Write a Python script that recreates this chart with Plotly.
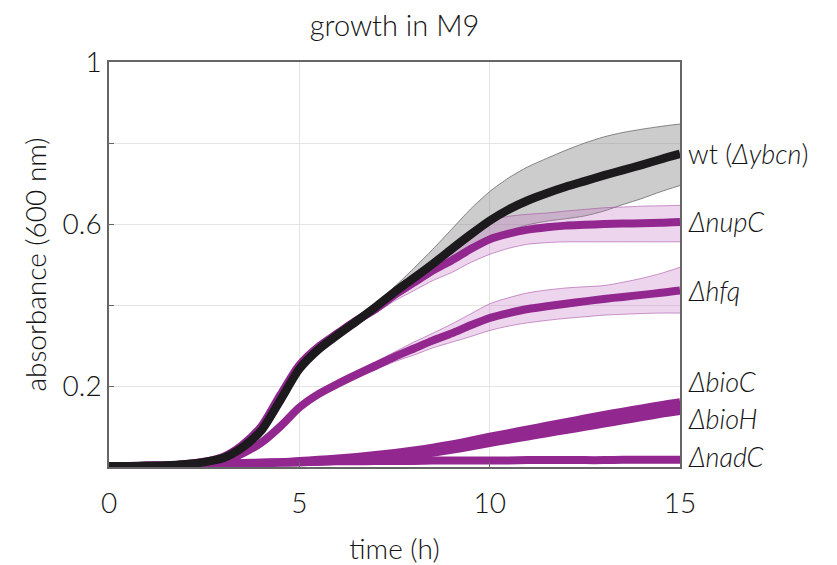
import plotly.graph_objects as go

# ---- data ----
time_h = [0, 0.5, 1, 1.5, 2, 2.5, 3, 3.5, 4, 4.5, 5, 5.5, 6, 6.5, 7, 7.5, 8, 8.5, 9, 9.5,
          10, 10.5, 11, 11.5, 12, 12.5, 13, 13.5, 14, 14.5, 15]

wt_mean = [0.002, 0.002, 0.003, 0.004, 0.007, 0.012, 0.022, 0.048, 0.09, 0.165, 0.242, 0.29,
           0.326, 0.36, 0.395, 0.432, 0.466, 0.501, 0.538, 0.574, 0.608, 0.636, 0.658, 0.676,
           0.692, 0.706, 0.72, 0.733, 0.746, 0.76, 0.773]
wt_upper = [0.006, 0.006, 0.007, 0.008, 0.011, 0.016, 0.026, 0.052, 0.095, 0.17, 0.248, 0.296,
            0.333, 0.37, 0.405, 0.445, 0.49, 0.537, 0.587, 0.637, 0.68, 0.714, 0.741, 0.762,
            0.782, 0.8, 0.815, 0.826, 0.834, 0.841, 0.847]
wt_lower = [0.0, 0.0, 0.0, 0.001, 0.003, 0.008, 0.018, 0.044, 0.085, 0.16, 0.236, 0.284,
            0.319, 0.352, 0.385, 0.415, 0.445, 0.475, 0.508, 0.538, 0.562, 0.583, 0.598, 0.607,
            0.613, 0.62, 0.632, 0.648, 0.663, 0.68, 0.695]

nupC_mean = [0.002, 0.002, 0.003, 0.004, 0.007, 0.013, 0.025, 0.054, 0.1, 0.178, 0.252, 0.297,
             0.33, 0.362, 0.39, 0.425, 0.455, 0.485, 0.51, 0.538, 0.562, 0.576, 0.586, 0.592,
             0.596, 0.598, 0.6, 0.601, 0.602, 0.603, 0.605]
nupC_upper = [0.006, 0.006, 0.007, 0.008, 0.011, 0.017, 0.029, 0.058, 0.105, 0.184, 0.259, 0.304,
              0.338, 0.372, 0.4, 0.44, 0.475, 0.51, 0.545, 0.583, 0.608, 0.619, 0.624, 0.627,
              0.632, 0.636, 0.64, 0.642, 0.644, 0.645, 0.646]
nupC_lower = [0.0, 0.0, 0.0, 0.001, 0.003, 0.009, 0.021, 0.05, 0.095, 0.172, 0.245, 0.29,
              0.322, 0.352, 0.38, 0.41, 0.435, 0.46, 0.48, 0.505, 0.525, 0.54, 0.55, 0.554,
              0.556, 0.556, 0.556, 0.556, 0.556, 0.556, 0.556]

hfq_mean = [0.002, 0.002, 0.003, 0.004, 0.006, 0.009, 0.015, 0.033, 0.06, 0.1, 0.147, 0.18,
            0.205, 0.228, 0.25, 0.272, 0.292, 0.312, 0.33, 0.35, 0.368, 0.38, 0.39, 0.397,
            0.403, 0.409, 0.415, 0.42, 0.425, 0.43, 0.436]
hfq_upper = [0.006, 0.006, 0.007, 0.008, 0.01, 0.013, 0.019, 0.037, 0.065, 0.106, 0.153, 0.186,
             0.212, 0.236, 0.26, 0.284, 0.308, 0.33, 0.353, 0.378, 0.403, 0.418, 0.43, 0.437,
             0.442, 0.445, 0.448, 0.456, 0.466, 0.478, 0.493]
hfq_lower = [0.0, 0.0, 0.0, 0.001, 0.002, 0.005, 0.011, 0.029, 0.055, 0.094, 0.141, 0.174,
             0.198, 0.22, 0.24, 0.26, 0.276, 0.294, 0.308, 0.322, 0.337, 0.348, 0.356, 0.362,
             0.367, 0.371, 0.375, 0.377, 0.379, 0.38, 0.38]

bioC_mean = [0.002, 0.002, 0.003, 0.004, 0.005, 0.006, 0.008, 0.009, 0.011, 0.013, 0.016, 0.019,
             0.022, 0.026, 0.031, 0.036, 0.042, 0.049, 0.057, 0.066, 0.076, 0.085, 0.094, 0.103,
             0.112, 0.121, 0.13, 0.138, 0.146, 0.154, 0.161]
bioH_mean = [0.002, 0.002, 0.003, 0.004, 0.004, 0.005, 0.006, 0.007, 0.008, 0.009, 0.01, 0.012,
             0.014, 0.016, 0.019, 0.023, 0.028, 0.034, 0.041, 0.049, 0.058, 0.066, 0.074, 0.082,
             0.09, 0.098, 0.106, 0.114, 0.122, 0.13, 0.137]
nadC_mean = [0.002, 0.002, 0.003, 0.004, 0.005, 0.006, 0.008, 0.01, 0.011, 0.012, 0.013, 0.013,
             0.014, 0.014, 0.015, 0.015, 0.015, 0.016, 0.016, 0.016, 0.016, 0.016, 0.017, 0.017,
             0.017, 0.017, 0.017, 0.018, 0.018, 0.018, 0.018]

label_texts = ["wt (<i>Δybcn</i>)", "<i>ΔnupC</i>", "<i>Δhfq</i>",
               "<i>ΔbioC</i>", "<i>ΔbioH</i>", "<i>ΔnadC</i>"]
label_y = [0.773, 0.606, 0.436, 0.21, 0.12, 0.025]

x_ticks = [0, 5, 10, 15]
y_tickvals = [0, 0.2, 0.4, 0.6, 0.8, 1]
y_ticktext = ["", "0.2", "", "0.6", "", "1"]

# ---- styles ----
PURPLE = "#92278f"
BLACK = "#1c1a1c"
FONT = "Lato"
TXT = "#141414"
SPL = dict(shape="spline", smoothing=0.7)


def fnt(size):
    return dict(family=FONT, size=size, color=TXT, weight=300)


fig = go.Figure()


def band(upper, lower, fill, edge, width=1):
    fig.add_trace(go.Scatter(x=time_h, y=upper, mode="lines",
                             line=dict(color=edge, width=width, **SPL),
                             hoverinfo="skip", showlegend=False))
    fig.add_trace(go.Scatter(x=time_h, y=lower, mode="lines", fill="tonexty", fillcolor=fill,
                             line=dict(color=edge, width=width, **SPL),
                             hoverinfo="skip", showlegend=False))


def curve(y, color, width):
    fig.add_trace(go.Scatter(x=time_h, y=y, mode="lines",
                             line=dict(color=color, width=width, **SPL),
                             showlegend=False))


pink_fill = "rgba(196,120,196,0.30)"
pink_edge = "rgba(160,70,160,0.55)"
band(hfq_upper, hfq_lower, pink_fill, pink_edge)
band(wt_upper, wt_lower, "rgba(128,128,128,0.40)", "rgba(120,120,120,0.9)")
band(nupC_upper, nupC_lower, pink_fill, pink_edge)

curve(nadC_mean, PURPLE, 8)
band(bioC_mean, bioH_mean, PURPLE, PURPLE, width=7)
curve(hfq_mean, PURPLE, 8)
curve(nupC_mean, PURPLE, 8)
curve(wt_mean, BLACK, 8.5)

for txt, yy in zip(label_texts, label_y):
    fig.add_annotation(x=1, xref="paper", y=yy, yref="y", text=txt, showarrow=False,
                       xanchor="left", yanchor="middle", xshift=6, font=fnt(27))

# page body has an 8px margin: figure is 829x557 so the plot lands where the reference's is
fig.update_layout(
    width=829, height=557,
    margin=dict(l=101, r=157, t=54, b=98, autoexpand=False),
    paper_bgcolor="white", plot_bgcolor="white",
    font=dict(family=FONT, color=TXT),
    title=dict(text="growth in M9", x=0.5, xref="paper", xanchor="center",
               y=1, yref="paper", yanchor="bottom", pad=dict(b=26), font=fnt(29)),
    showlegend=False,
)
fig.update_xaxes(range=[0, 15], tickvals=x_ticks, ticktext=[str(v) for v in x_ticks],
                 showgrid=True, gridcolor="#e4e4e4", gridwidth=1,
                 showline=True, linecolor="#666666", linewidth=1.5, mirror=True,
                 ticks="inside", ticklen=5, tickcolor="#666666", ticklabelstandoff=11,
                 tickfont=fnt(28), zeroline=False, automargin=False,
                 title=dict(text="time (h)", font=fnt(28), standoff=22))
fig.update_yaxes(range=[0, 1], tickvals=y_tickvals, ticktext=y_ticktext,
                 showgrid=True, gridcolor="#e4e4e4", gridwidth=1,
                 showline=True, linecolor="#666666", linewidth=1.5, mirror=True,
                 ticks="inside", ticklen=5, tickcolor="#666666",
                 tickfont=fnt(28), zeroline=False, automargin=False,
                 title=dict(text="absorbance (600 nm)", font=fnt(28), standoff=8))

fig.write_html("out.html")
